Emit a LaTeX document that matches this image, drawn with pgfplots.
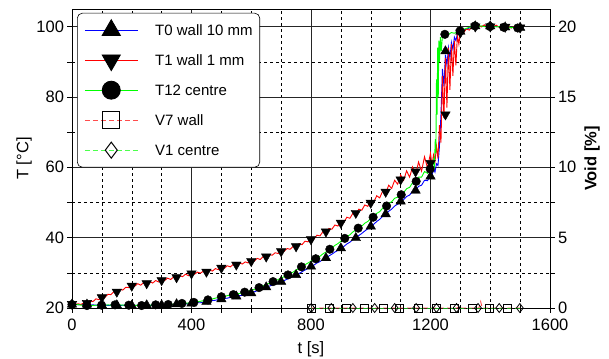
\documentclass[border=0pt]{standalone}
\usepackage{fontspec}
\setmainfont{Liberation Sans}
\usepackage{pgfplots}
\pgfplotsset{compat=1.18}

% temperature traces (t in s, T in degC)
\newcommand{\datTzero}{%
(0,21.0)(10,21.1)(20,20.9)(30,21.0)(40,20.9)(50,21.0)(60,20.8)(70,20.9)(80,20.8)(90,20.9)
(100,20.8)(110,20.9)(120,20.7)(130,20.8)(140,20.7)(150,20.8)(160,20.7)(170,20.8)(180,20.7)(190,20.8)
(200,20.7)(210,20.8)(220,20.7)(230,20.8)(240,20.7)(250,20.8)(260,20.7)(270,20.8)(280,20.8)(290,20.9)
(300,20.8)(310,20.9)(320,20.9)(330,21.0)(340,20.9)(350,21.1)(360,21.0)(370,21.2)(380,21.1)(390,21.3)
(400,21.3)(410,21.4)(420,21.5)(430,21.5)(440,21.7)(450,21.8)(460,21.9)(470,22.1)(480,22.2)(490,22.4)
(500,22.5)(510,22.7)(520,22.8)(530,23.0)(540,23.1)(550,23.3)(560,23.5)(570,23.6)(580,23.9)(590,24.0)
(600,24.2)(610,24.6)(620,24.9)(630,25.2)(640,25.6)(650,25.9)(660,26.2)(670,26.5)(680,26.9)(690,27.2)
(700,27.5)(710,27.8)(720,28.2)(730,28.6)(740,29.0)(750,29.4)(760,29.8)(770,30.3)(780,30.8)(790,31.3)
(800,31.8)(810,32.2)(820,32.8)(830,33.2)(840,33.8)(850,34.2)(860,34.8)(870,35.3)(880,35.9)(890,36.4)
(900,37.0)(910,37.5)(920,38.2)(930,38.7)(940,39.4)(950,39.9)(960,40.6)(970,41.2)(980,41.9)(990,42.5)
(1000,43.2)(1010,43.8)(1020,44.6)(1030,45.2)(1040,46.1)(1050,46.7)(1060,47.5)(1070,48.1)(1080,49.0)(1090,49.5)
(1100,50.3)(1110,50.8)(1120,51.7)(1130,52.1)(1140,53.2)(1150,53.4)(1160,54.6)(1170,54.9)(1180,56.3)(1190,56.2)
(1200,57.6)(1205,57.8)(1210,59.5)(1215,58.6)(1220,61.0)(1225,60.5)(1230,66.0)(1235,75.0)(1240,88.0)(1245,83.0)
(1250,92.0)(1255,89.0)(1260,94.0)(1265,91.0)(1270,95.5)(1275,93.5)(1280,97.0)(1285,96.0)(1290,98.0)(1295,97.8)
(1300,98.6)(1310,98.9)(1320,99.3)(1330,99.6)(1340,99.9)(1350,100.1)(1360,100.2)(1370,100.0)(1380,100.2)(1390,99.9)
(1400,100.1)(1410,100.0)(1420,100.1)(1430,99.9)(1440,100.0)(1450,99.8)(1460,99.9)(1470,99.7)(1480,99.8)(1490,99.6)(1500,99.7)}

\newcommand{\datTone}{%
(0,21.1)(10,20.9)(20,21.2)(30,21.0)(40,21.5)(50,21.3)(60,22.1)(70,21.8)(80,22.6)(90,22.4)
(100,23.2)(110,23.0)(120,23.9)(130,23.8)(140,24.6)(150,24.4)(160,25.3)(170,25.1)(180,25.9)(190,25.8)
(200,26.5)(210,26.2)(220,26.9)(230,26.5)(240,27.2)(250,26.8)(260,27.5)(270,27.1)(280,27.8)(290,27.4)
(300,28.1)(310,27.8)(320,28.5)(330,28.1)(340,28.8)(350,28.5)(360,29.2)(370,28.9)(380,29.6)(390,29.2)
(400,30.0)(410,29.6)(420,30.2)(430,29.9)(440,30.5)(450,30.1)(460,30.8)(470,30.5)(480,31.2)(490,30.9)
(500,31.6)(510,31.3)(520,32.0)(530,31.7)(540,32.4)(550,32.1)(560,32.8)(570,32.5)(580,33.1)(590,32.8)
(600,33.5)(610,33.3)(620,34.1)(630,33.8)(640,34.6)(650,34.4)(660,35.2)(670,35.0)(680,35.7)(690,35.5)
(700,36.3)(710,36.1)(720,36.9)(730,36.7)(740,37.5)(750,37.3)(760,38.3)(770,38.0)(780,39.0)(790,38.8)
(800,39.8)(810,39.6)(820,40.7)(830,40.5)(840,41.7)(850,41.4)(860,42.6)(870,42.4)(880,43.6)(890,43.3)
(900,44.6)(910,44.4)(920,45.8)(930,45.5)(940,46.9)(950,46.7)(960,48.1)(970,47.8)(980,49.3)(990,48.9)
(1000,50.5)(1010,50.1)(1020,51.9)(1030,51.3)(1040,53.3)(1050,52.6)(1060,54.9)(1070,54.0)(1080,56.3)(1090,55.2)
(1100,57.8)(1110,56.3)(1120,59.0)(1130,57.2)(1140,60.1)(1150,57.9)(1160,61.5)(1170,58.9)(1180,63.0)(1190,59.8)
(1200,64.0)(1205,60.5)(1210,63.5)(1215,61.5)(1220,66.0)(1225,62.5)(1230,72.0)(1235,67.0)(1240,86.0)(1245,74.0)
(1250,91.0)(1255,77.0)(1260,94.0)(1265,82.0)(1270,95.0)(1275,86.0)(1280,96.0)(1285,89.0)(1290,97.5)(1295,95.0)
(1300,98.5)(1310,98.2)(1320,99.3)(1330,99.0)(1340,100.2)(1350,99.8)(1360,100.4)(1370,99.9)(1380,100.5)(1390,99.7)
(1400,100.3)(1410,99.9)(1420,100.4)(1430,99.8)(1440,100.2)(1450,99.7)(1460,100.1)(1470,99.6)(1480,100.0)(1490,99.5)(1500,99.8)}

\newcommand{\datTtwelve}{%
(0,21.0)(10,20.9)(20,21.0)(30,20.8)(40,20.8)(50,20.7)(60,20.8)(70,20.7)(80,20.8)(90,20.7)
(100,20.8)(110,20.7)(120,20.9)(130,20.8)(140,20.9)(150,20.8)(160,20.9)(170,20.8)(180,20.9)(190,20.8)
(200,20.9)(210,20.7)(220,20.8)(230,20.7)(240,20.8)(250,20.7)(260,20.8)(270,20.8)(280,20.9)(290,20.8)
(300,20.9)(310,20.9)(320,21.0)(330,21.0)(340,21.1)(350,21.1)(360,21.2)(370,21.3)(380,21.4)(390,21.4)
(400,21.6)(410,21.6)(420,21.8)(430,21.9)(440,22.1)(450,22.2)(460,22.4)(470,22.6)(480,22.8)(490,23.0)
(500,23.2)(510,23.3)(520,23.5)(530,23.6)(540,23.8)(550,24.0)(560,24.1)(570,24.4)(580,24.5)(590,24.8)
(600,25.0)(610,25.3)(620,25.6)(630,26.0)(640,26.3)(650,26.7)(660,27.0)(670,27.4)(680,27.7)(690,28.1)
(700,28.5)(710,28.9)(720,29.3)(730,29.8)(740,30.2)(750,30.8)(760,31.3)(770,31.8)(780,32.3)(790,32.8)
(800,33.3)(810,33.7)(820,34.3)(830,34.7)(840,35.4)(850,35.9)(860,36.5)(870,37.1)(880,37.8)(890,38.3)
(900,39.0)(910,39.6)(920,40.3)(930,40.8)(940,41.6)(950,42.2)(960,42.8)(970,43.3)(980,44.1)(990,44.6)
(1000,45.4)(1010,46.0)(1020,46.9)(1030,47.4)(1040,48.4)(1050,48.8)(1060,49.8)(1070,50.2)(1080,51.2)(1090,51.5)
(1100,52.2)(1110,52.8)(1120,53.9)(1130,54.3)(1140,55.6)(1150,55.9)(1160,57.2)(1170,57.2)(1180,58.8)(1190,58.3)
(1200,60.0)(1205,59.4)(1210,62.0)(1213,60.5)(1216,68.0)(1218,64.0)(1220,85.0)(1222,75.0)(1224,94.0)(1226,80.0)
(1228,96.0)(1230,90.0)(1233,97.0)(1236,93.0)(1240,97.5)(1245,97.2)(1250,98.0)(1260,97.8)(1270,98.3)(1280,98.1)
(1290,98.6)(1300,98.8)(1310,99.2)(1320,99.5)(1330,99.8)(1340,100.0)(1350,100.2)(1360,100.0)(1370,100.2)(1380,100.0)
(1390,100.1)(1400,100.0)(1410,100.1)(1420,99.9)(1430,100.0)(1440,99.9)(1450,99.8)(1460,99.9)(1470,99.7)(1480,99.8)(1490,99.6)(1500,99.7)}

\begin{document}
\begin{tikzpicture}
\path[use as bounding box] (-72pt,-50pt) rectangle (537pt,308pt);

\pgfplotsset{
  common/.style={
    at={(0,0)}, anchor=south west,
    scale only axis, width=478pt, height=299pt,
    xmin=0, xmax=1600,
    tick align=outside, major tick length=4.5pt, minor tick length=4.5pt,
    tick style={black, line width=0.5pt},
    axis line style={black, line width=0.6pt},
    tick label style={font=\fontsize{16.5}{18}\selectfont},
    /pgf/number format/assume math mode=true,
    /pgf/number format/1000 sep={},
  },
}

\begin{axis}[
  common,
  ymin=20, ymax=105,
  xtick={0,400,...,1600},
  minor xtick={100,200,300,500,600,700,900,1000,1100,1300,1400,1500},
  ytick={20,40,...,100},
  minor ytick={30,50,70,90},
  xtick pos=left, ytick pos=left,
  xticklabel style={yshift=-3pt},
  grid=both,
  major grid style={black!85, line width=0.5pt},
  minor grid style={black, dashed, line width=0.5pt},
  xlabel={t [s]},
  ylabel={T [°C]},
  every axis x label/.style={at={(axis description cs:0.5,-0.137)}, anchor=center,
    font=\fontsize{16.5}{18}\selectfont},
  every axis y label/.style={at={(axis description cs:-0.1,0.5)}, rotate=90, anchor=center,
    font=\fontsize{16.5}{18}\selectfont},
  legend cell align=left,
  legend style={
    at={(0.0105,0.987)}, anchor=north west,
    draw=black, line width=0.6pt, fill=white, rounded corners=5pt,
    inner xsep=7pt, inner ysep=6pt,
    row sep=8pt, column sep=17pt,
    font=\fontsize{15}{18}\selectfont,
    nodes={inner sep=0pt, text height=16pt, text depth=6pt},
  },
  legend image code/.code={%
    \draw[sharp corners, line width=0.9pt, mark repeat=2, mark phase=2, #1]
      plot coordinates {(0pt,0pt) (26.5pt,0pt) (53pt,0pt)};
  },
]
% legend entries
\addlegendimage{blue, mark=triangle*, mark size=10.4pt, mark options={black, fill=black, solid}}
\addlegendentry{T0 wall 10 mm}
\addlegendimage{red, mark=triangle*, mark size=10.4pt, mark options={black, fill=black, solid, rotate=180}}
\addlegendentry{T1 wall 1 mm}
\addlegendimage{green, mark=*, mark size=9pt, mark options={black, fill=black, solid}}
\addlegendentry{T12 centre}
\addlegendimage{red!70, dash pattern=on 5pt off 3pt, mark=square, mark size=8.6pt, mark options={black, solid, line width=1pt}}
\addlegendentry{V7 wall}
\addlegendimage{green!70, dash pattern=on 5pt off 3pt, mark=diamond, mark size=8pt, mark options={black, solid, line width=1pt}}
\addlegendentry{V1 centre}

% temperature traces
\addplot[blue, line width=0.9pt, no marks] coordinates {\datTzero};
\addplot[red, line width=0.9pt, no marks] coordinates {\datTone};
\addplot[green, line width=0.9pt, no marks] coordinates {\datTtwelve};

% sample markers
\addplot[only marks, mark=triangle*, mark size=5.5pt, black] coordinates {
(0,21.0)(50,21.0)(100,20.8)(150,20.8)(200,20.7)(250,20.8)(300,20.8)(350,21.1)(400,21.3)(450,21.8)
(500,22.5)(550,23.3)(600,24.2)(650,25.9)(700,27.5)(750,29.4)(800,31.8)(850,34.2)(900,37.0)(950,39.9)
(1000,43.2)(1050,46.7)(1100,50.3)(1150,53.4)(1200,57.4)(1250,93.0)(1300,98.6)(1350,100.1)(1400,100.1)(1450,99.8)(1500,99.7)};
\addplot[only marks, mark=triangle*, mark size=5.5pt, black, mark options={rotate=180}] coordinates {
(0,21.1)(50,21.4)(100,23.0)(150,24.6)(200,26.3)(250,27.0)(300,27.9)(350,28.7)(400,29.8)(450,30.3)
(500,31.4)(550,32.3)(600,33.3)(650,34.6)(700,36.1)(750,37.5)(800,39.5)(850,41.7)(900,44.2)(950,47.0)
(1000,49.9)(1050,53.0)(1100,56.5)(1150,58.8)(1200,61.2)(1250,75.0)(1300,98.3)(1350,100.0)(1400,100.0)(1450,99.9)(1500,99.7)};
\addplot[only marks, mark=*, mark size=4.3pt, black] coordinates {
(0,21.0)(50,20.7)(99,20.8)(144,20.9)(190,20.8)(233,20.7)(280,20.9)(322,21.0)(368,21.3)(408,21.6)
(455,22.3)(500,23.2)(540,23.8)(578,24.5)(626,25.8)(673,27.5)(723,29.4)(768,31.7)(816,34.0)(863,36.7)
(913,39.8)(958,42.7)(1008,45.8)(1053,49.0)(1102,52.2)(1152,56.0)(1199,59.5)(1248,97.8)(1299,98.8)
(1349,100.2)(1399,100.0)(1445,99.8)(1492,99.6)};
\end{axis}

\begin{axis}[
  common,
  ymin=0, ymax=21.25,
  axis x line=none,
  axis y line*=right,
  ytick={0,5,...,20},
  minor ytick={2.5,7.5,12.5,17.5},
  ylabel={\textbf{Void [\%]}},
  every axis y label/.style={at={(axis description cs:1.088,0.5)}, rotate=90, anchor=center,
    font=\fontsize{16.5}{18}\selectfont},
]
% void fraction traces
\addplot[red!70, dash pattern=on 5pt off 3pt, line width=0.9pt, no marks] coordinates {
(800,0)(1290,0)(1296,0.15)(1302,0)(1362,0)(1368,0.45)(1373,0)(1500,0)};
\addplot[green!60!black!90, dash pattern=on 5pt off 3pt, dash phase=4pt, line width=0.9pt, no marks] coordinates {
(800,0)(1500,0)};
\addplot[only marks, mark=square, mark size=4pt, black, mark options={line width=0.8pt}] coordinates {
(801,0)(863,0)(918,0)(980,0)(1041,0)(1097,0)(1158,0)(1220,0)(1281,0)(1340,0)(1398,0)(1459,0)};
\addplot[only marks, mark=diamond, mark size=4.5pt, black, mark options={line width=0.8pt}] coordinates {
(801,0)(868,0)(940,0)(1013,0)(1080,0)(1152,0)(1220,0)(1287,0)(1359,0)(1430,0)(1499,0)};
\end{axis}
\end{tikzpicture}
\end{document}
